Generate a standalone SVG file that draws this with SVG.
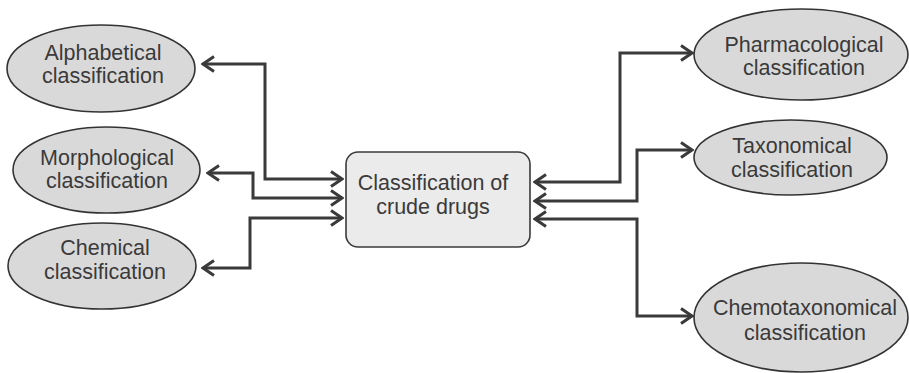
<svg xmlns="http://www.w3.org/2000/svg" width="909" height="373" viewBox="0 0 909 373">
<style>
  .oval { fill: #d9d9d9; stroke: #333; stroke-width: 1.6; }
  .box { fill: #ebebeb; stroke: #3a3a3a; stroke-width: 1.6; }
  .lbl { font-family: "Liberation Sans", Arial, sans-serif; font-size: 21.5px; fill: #3a3a3a; text-anchor: middle; }
  .conn { fill: none; stroke: #3a3a3a; stroke-width: 3; marker-start: url(#arr); marker-end: url(#arr); }
</style>
<defs>
  <marker id="arr" viewBox="-14 -10 16 20" refX="0" refY="0" markerWidth="16" markerHeight="20" markerUnits="userSpaceOnUse" orient="auto-start-reverse">
    <path d="M-11,-7.5 L0,0 L-11,7.5" fill="none" stroke="#3a3a3a" stroke-width="3" stroke-linejoin="miter"/>
  </marker>
</defs>
<rect width="909" height="373" fill="#ffffff"/>
<g id="connectors">
  <path class="conn" d="M203,64 H265 V179 H342"/>
  <path class="conn" d="M208,173 H253 V198 H342"/>
  <path class="conn" d="M203,268 H250 V218 H342"/>
  <path class="conn" d="M535,182 H620 V53 H692"/>
  <path class="conn" d="M535,201 H637 V150 H692"/>
  <path class="conn" d="M535,219 H637 V316 H692"/>
</g>
<g id="center">
  <rect class="box" x="346" y="152" width="184" height="95" rx="12"/>
  <text class="lbl" x="433" y="190">Classification of</text>
  <text class="lbl" x="433" y="214">crude drugs</text>
</g>
<g id="alphabetical">
  <ellipse class="oval" cx="101" cy="68.5" rx="94" ry="43.5"/>
  <text class="lbl" x="103" y="60">Alphabetical</text>
  <text class="lbl" x="103" y="83">classification</text>
</g>
<g id="morphological">
  <ellipse class="oval" cx="106.5" cy="170" rx="93.5" ry="43"/>
  <text class="lbl" x="107" y="165">Morphological</text>
  <text class="lbl" x="107" y="188">classification</text>
</g>
<g id="chemical">
  <ellipse class="oval" cx="102" cy="266" rx="94" ry="43"/>
  <text class="lbl" x="105" y="255">Chemical</text>
  <text class="lbl" x="105" y="279">classification</text>
</g>
<g id="pharmacological">
  <ellipse class="oval" cx="801" cy="54.5" rx="107" ry="45.5"/>
  <text class="lbl" x="804" y="52">Pharmacological</text>
  <text class="lbl" x="804" y="75">classification</text>
</g>
<g id="taxonomical">
  <ellipse class="oval" cx="790.5" cy="157.5" rx="96.5" ry="37.5"/>
  <text class="lbl" x="792" y="153">Taxonomical</text>
  <text class="lbl" x="792" y="177">classification</text>
</g>
<g id="chemotaxonomical">
  <ellipse class="oval" cx="801" cy="317.5" rx="107" ry="54.5"/>
  <text class="lbl" x="805" y="315">Chemotaxonomical</text>
  <text class="lbl" x="805" y="340">classification</text>
</g>
</svg>
